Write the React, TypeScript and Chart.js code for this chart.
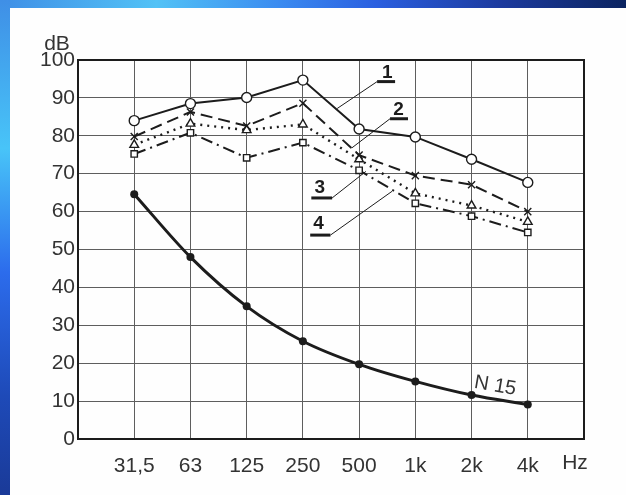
import React, { useEffect, useRef } from "react";
import { Chart, registerables } from "chart.js";

Chart.register(...registerables);

// ---- data ----
const categories = ["31,5", "63", "125", "250", "500", "1k", "2k", "4k"];
const unitLabel = "Hz";
const yUnit = "dB";
const curve1 = [84, 88.5, 90.1, 94.7, 81.8, 79.7, 73.8, 67.7];
const curve2 = [79.8, 86.3, 82.6, 88.6, 74.9, 69.5, 67.1, 60];
const curve3 = [77.6, 83.2, 81.5, 83, 73.8, 64.8, 61.6, 57.3];
const curve4 = [75.2, 80.8, 74.2, 78.2, 70.9, 62.2, 58.8, 54.5];
const curveN15 = [64.6, 48, 35, 25.8, 19.7, 15.2, 11.6, 9.1];
const curveNames = ["1", "2", "3", "4"];
const n15Name = "N 15";

// callout anchors in data units (x: category position, y: dB)
const calloutText = [
  [5.5, 96.6],
  [5.7, 86.9],
  [4.3, 66.3],
  [4.28, 56.8],
];
const calloutUnderline = [
  [5.32, 5.64, 94.3],
  [5.55, 5.87, 84.5],
  [4.15, 4.52, 63.6],
  [4.13, 4.49, 53.8],
];
const calloutLeader = [
  [5.32, 94.3, 4.61, 87.2],
  [5.55, 84.5, 4.87, 76.8],
  [4.52, 63.6, 5.12, 70.6],
  [4.49, 53.8, 5.59, 65.4],
];
const n15Pos = [7.42, 14.0];

const FONT = "'Liberation Sans Narrow', 'Liberation Sans', sans-serif";
const INK = "#1c1c1c";

const pts = (arr: number[]) => arr.map((v, i) => ({ x: i + 1, y: v }));

const overlay = {
  id: "overlay",
  beforeDatasetsDraw(chart: any) {
    const { ctx, chartArea: a } = chart;
    ctx.save();
    ctx.strokeStyle = INK;
    ctx.lineWidth = 2;
    ctx.strokeRect(a.left, a.top, a.right - a.left, a.bottom - a.top);
    ctx.restore();
  },
  afterDatasetsDraw(chart: any) {
    const { ctx, chartArea: a, scales } = chart;
    const x = scales.x;
    const y = scales.y;
    ctx.save();
    ctx.fillStyle = "#333";
    ctx.font = `21px ${FONT}`;
    ctx.textAlign = "center";
    ctx.textBaseline = "middle";
    ctx.fillText(yUnit, a.left - 21, a.top - 16);
    ctx.fillText(unitLabel, x.getPixelForValue(9) - 9, a.bottom + 24);

    // callouts
    ctx.strokeStyle = INK;
    ctx.fillStyle = INK;
    for (let i = 0; i < curveNames.length; i++) {
      const [tx, ty] = calloutText[i];
      ctx.font = `bold 19px ${FONT}`;
      ctx.fillText(curveNames[i], x.getPixelForValue(tx), y.getPixelForValue(ty));
      const [u1, u2, uy] = calloutUnderline[i];
      ctx.lineWidth = 3;
      ctx.beginPath();
      ctx.moveTo(x.getPixelForValue(u1), y.getPixelForValue(uy));
      ctx.lineTo(x.getPixelForValue(u2), y.getPixelForValue(uy));
      ctx.stroke();
      const [l1x, l1y, l2x, l2y] = calloutLeader[i];
      ctx.lineWidth = 1;
      ctx.beginPath();
      ctx.moveTo(x.getPixelForValue(l1x), y.getPixelForValue(l1y));
      ctx.lineTo(x.getPixelForValue(l2x), y.getPixelForValue(l2y));
      ctx.stroke();
    }

    // N 15 label
    ctx.save();
    ctx.translate(x.getPixelForValue(n15Pos[0]), y.getPixelForValue(n15Pos[1]));
    ctx.rotate(0.17);
    ctx.font = `20px ${FONT}`;
    ctx.fillStyle = "#333";
    ctx.fillText(n15Name, 0, 0);
    ctx.restore();

    ctx.restore();
  },
};

export default function App() {
  const ref = useRef<HTMLCanvasElement | null>(null);

  useEffect(() => {
    document.body.style.margin = "0";
    const canvas = ref.current!;
    const open = "#ffffff";
    const chart = new Chart(canvas, {
      type: "line",
      data: {
        datasets: [
          {
            label: curveNames[0],
            data: pts(curve1),
            borderColor: INK,
            borderWidth: 2,
            pointStyle: "circle",
            pointRadius: 5,
            pointBackgroundColor: open,
            pointBorderColor: INK,
            pointBorderWidth: 1.4,
          },
          {
            label: curveNames[1],
            data: pts(curve2),
            borderColor: INK,
            borderWidth: 2,
            borderDash: [12, 6],
            pointStyle: "crossRot",
            pointRadius: 5,
            pointBorderColor: INK,
            pointBorderWidth: 1.4,
          },
          {
            label: curveNames[2],
            data: pts(curve3),
            borderColor: INK,
            borderWidth: 2.4,
            borderDash: [2, 5],
            pointStyle: "triangle",
            pointRadius: 5,
            pointBackgroundColor: open,
            pointBorderColor: INK,
            pointBorderWidth: 1.4,
          },
          {
            label: curveNames[3],
            data: pts(curve4),
            borderColor: INK,
            borderWidth: 2,
            borderDash: [12, 5, 2, 5],
            pointStyle: "rect",
            pointRadius: 4.5,
            pointBackgroundColor: open,
            pointBorderColor: INK,
            pointBorderWidth: 1.4,
          },
          {
            label: n15Name,
            data: pts(curveN15),
            borderColor: INK,
            borderWidth: 3,
            cubicInterpolationMode: "monotone",
            pointStyle: "circle",
            pointRadius: 4,
            pointBackgroundColor: INK,
            pointBorderColor: INK,
            pointBorderWidth: 0,
          },
        ],
      },
      options: {
        animation: false,
        responsive: false,
        events: [],
        layout: { padding: { top: 60, right: 42, left: 0, bottom: 0 } },
        plugins: {
          legend: { display: false },
          tooltip: { enabled: false },
          title: { display: false },
        },
        scales: {
          x: {
            type: "linear",
            min: 0,
            max: 9,
            afterFit: (s: any) => {
              s.height = 56;
            },
            border: { display: false },
            grid: { color: "#5e5e5e", lineWidth: 1, drawTicks: false },
            ticks: {
              stepSize: 1,
              autoSkip: false,
              maxRotation: 0,
              padding: 15,
              color: "#333",
              font: { family: FONT, size: 21 },
              callback: (v: any) => categories[Number(v) - 1] ?? "",
            },
          },
          y: {
            type: "linear",
            min: 0,
            max: 100,
            afterFit: (s: any) => {
              s.width = 78;
            },
            border: { display: false },
            grid: { color: "#5e5e5e", lineWidth: 1, drawTicks: false },
            ticks: {
              stepSize: 10,
              padding: 3,
              color: "#333",
              font: { family: FONT, size: 21 },
            },
          },
        },
      },
      plugins: [overlay],
    });
    return () => chart.destroy();
  }, []);

  return (
    <div
      style={{
        position: "fixed",
        left: 0,
        top: 0,
        width: 626,
        height: 495,
        overflow: "hidden",
        background:
          "linear-gradient(90deg, #3f8fe6 0%, #52c2f6 25%, #3a8af0 45%, #2a5fe0 60%, #1c3a9e 80%, #0b2460 100%)",
      }}
    >
      <div
        style={{
          position: "absolute",
          left: 0,
          top: 0,
          width: 10,
          height: 495,
          background:
            "linear-gradient(180deg, #3f8fe6 0%, #48c4f8 30%, #2c6cec 55%, #1e4ab8 80%, #1a3a98 100%)",
        }}
      />
      <div
        style={{
          position: "absolute",
          left: 10,
          top: 8,
          right: 0,
          bottom: 0,
          background: "#fefefe",
        }}
      />
      <canvas
        ref={ref}
        width={626}
        height={495}
        style={{ position: "absolute", left: 0, top: 0, width: 626, height: 495 }}
      />
    </div>
  );
}
